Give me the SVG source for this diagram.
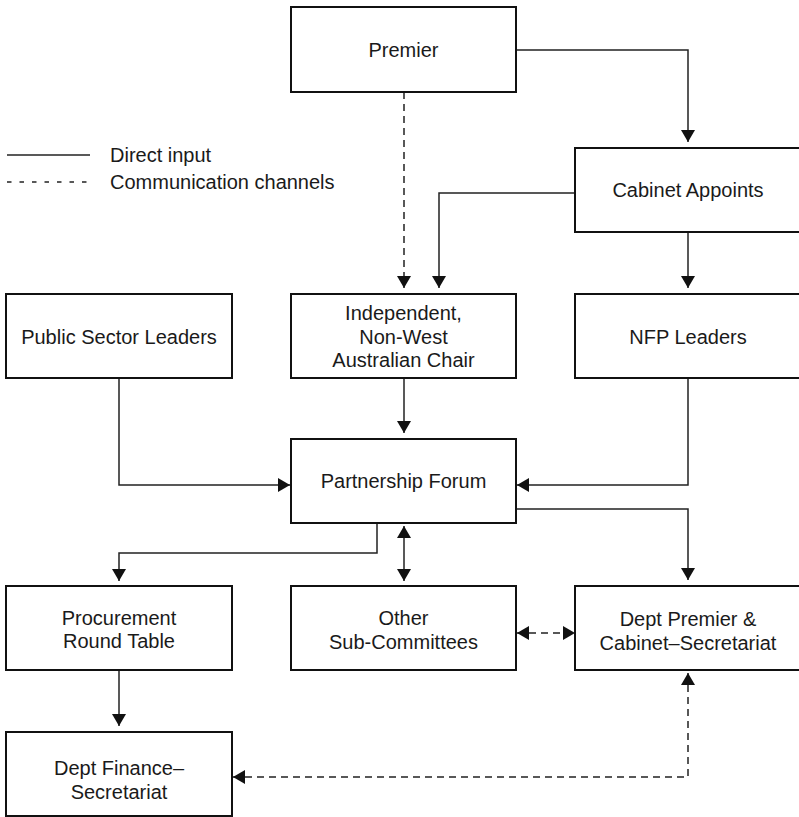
<svg xmlns="http://www.w3.org/2000/svg" width="799" height="817" viewBox="0 0 799 817">
  <style>
    .box { fill: #ffffff; stroke: #111111; stroke-width: 2; }
    .lbl { font-family: "Liberation Sans", Arial, Helvetica, sans-serif; font-size: 20px; fill: #1a1a1a; text-anchor: middle; }
    .leg { font-family: "Liberation Sans", Arial, Helvetica, sans-serif; font-size: 20px; fill: #1a1a1a; }
    .wire { fill: none; stroke: #222222; stroke-width: 1.5; }
    .dash { stroke-dasharray: 7 5; }
  </style>
  <defs>
    <marker id="arrow" markerUnits="userSpaceOnUse" markerWidth="14" markerHeight="14" refX="12" refY="7" orient="auto-start-reverse">
      <path d="M0,0 L12,7 L0,14 z" fill="#111111"/>
    </marker>
  </defs>

  <rect width="799" height="817" fill="#ffffff"/>

  <!-- legend -->
  <g id="legend">
    <line x1="7" y1="155" x2="90" y2="155" class="wire"/>
    <text x="110" y="162" class="leg">Direct input</text>
    <line x1="7" y1="182" x2="90" y2="182" class="wire" stroke-dasharray="4.5 8"/>
    <text x="110" y="189" class="leg">Communication channels</text>
  </g>

  <!-- connectors -->
  <g id="connectors">
    <!-- Premier to Cabinet Appoints -->
    <path class="wire" d="M516,50 H688 V142" marker-end="url(#arrow)"/>
    <!-- Premier to Independent Chair (communication) -->
    <path class="wire dash" d="M404,92 V288" marker-end="url(#arrow)"/>
    <!-- Cabinet Appoints to Independent Chair -->
    <path class="wire" d="M575,193 H439 V288" marker-end="url(#arrow)"/>
    <!-- Cabinet Appoints to NFP Leaders -->
    <path class="wire" d="M688,232 V288" marker-end="url(#arrow)"/>
    <!-- Public Sector Leaders to Partnership Forum -->
    <path class="wire" d="M119,378 V485 H290" marker-end="url(#arrow)"/>
    <!-- Independent Chair to Partnership Forum -->
    <path class="wire" d="M404,378 V433" marker-end="url(#arrow)"/>
    <!-- NFP Leaders to Partnership Forum -->
    <path class="wire" d="M688,378 V485 H517" marker-end="url(#arrow)"/>
    <!-- Partnership Forum to Procurement Round Table -->
    <path class="wire" d="M377,523 V553 H119 V581" marker-end="url(#arrow)"/>
    <!-- Partnership Forum and Other Sub-Committees -->
    <path class="wire" d="M404,526 V581" marker-start="url(#arrow)" marker-end="url(#arrow)"/>
    <!-- Partnership Forum to Dept Premier & Cabinet -->
    <path class="wire" d="M516,509 H688 V580" marker-end="url(#arrow)"/>
    <!-- Other Sub-Committees and Dept Premier & Cabinet (communication) -->
    <path class="wire dash" d="M517,633 H575" marker-start="url(#arrow)" marker-end="url(#arrow)"/>
    <!-- Procurement Round Table to Dept Finance -->
    <path class="wire" d="M119,670 V726" marker-end="url(#arrow)"/>
    <!-- Dept Finance and Dept Premier & Cabinet (communication) -->
    <path class="wire dash" d="M233,777 H688 V673" marker-start="url(#arrow)" marker-end="url(#arrow)"/>
  </g>

  <!-- nodes -->
  <g id="premier">
    <rect class="box" x="291" y="7" width="225" height="85"/>
    <text class="lbl" x="403.5" y="57">Premier</text>
  </g>
  <g id="cabinet-appoints">
    <rect class="box" x="575" y="148" width="226" height="84"/>
    <text class="lbl" x="688" y="197">Cabinet Appoints</text>
  </g>
  <g id="public-sector-leaders">
    <rect class="box" x="6" y="294" width="226" height="84"/>
    <text class="lbl" x="119" y="344">Public Sector Leaders</text>
  </g>
  <g id="independent-chair">
    <rect class="box" x="291" y="294" width="225" height="84"/>
    <text class="lbl" x="403.5" y="320">Independent,</text>
    <text class="lbl" x="403.5" y="343.5">Non-West</text>
    <text class="lbl" x="403.5" y="367">Australian Chair</text>
  </g>
  <g id="nfp-leaders">
    <rect class="box" x="575" y="294" width="226" height="84"/>
    <text class="lbl" x="688" y="344">NFP Leaders</text>
  </g>
  <g id="partnership-forum">
    <rect class="box" x="291" y="439" width="225" height="84"/>
    <text class="lbl" x="403.5" y="488">Partnership Forum</text>
  </g>
  <g id="procurement-round-table">
    <rect class="box" x="6" y="586" width="226" height="84"/>
    <text class="lbl" x="119" y="624.5">Procurement</text>
    <text class="lbl" x="119" y="648">Round Table</text>
  </g>
  <g id="other-sub-committees">
    <rect class="box" x="291" y="586" width="225" height="84"/>
    <text class="lbl" x="403.5" y="625">Other</text>
    <text class="lbl" x="403.5" y="648.5">Sub-Committees</text>
  </g>
  <g id="dept-premier-cabinet">
    <rect class="box" x="575" y="586" width="226" height="84"/>
    <text class="lbl" x="688" y="626">Dept Premier &amp;</text>
    <text class="lbl" x="688" y="650">Cabinet–Secretariat</text>
  </g>
  <g id="dept-finance">
    <rect class="box" x="6" y="732" width="226" height="84"/>
    <text class="lbl" x="119" y="774.5">Dept Finance–</text>
    <text class="lbl" x="119" y="798.5">Secretariat</text>
  </g>
</svg>
